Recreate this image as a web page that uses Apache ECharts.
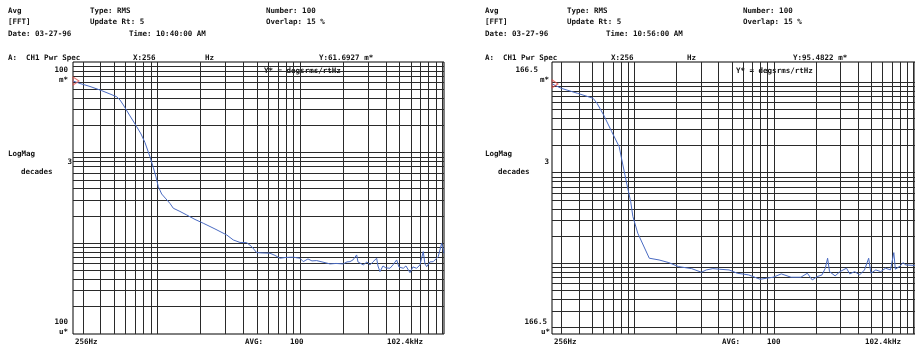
<!DOCTYPE html>
<html>
<head>
<meta charset="utf-8">
<title>CH1 Pwr Spec</title>
<script src="https://cdn.jsdelivr.net/npm/echarts@6/dist/echarts.min.js"></script>
<style>
  html, body { margin: 0; padding: 0; background: #fff; }
  #chart { width: 915px; height: 349px; }
</style>
</head>
<body>
<div id="chart"></div>
<script>
// left trace (10:40:00) - Hz / degsrms/rtHz
const freqA = [256, 287, 337, 407, 465, 518, 547, 577, 643, 716, 768, 819, 888, 936, 978, 1015, 1072, 1149, 1226, 1293,
  1440, 1605, 1836, 2099, 2535, 3062, 3407, 3797, 4230, 4587, 4972, 5417, 6163, 6682, 7243, 7980, 8979, 10004, 10550, 11381,
  12140, 13099, 14270, 16236, 17887, 20127, 21363, 22425, 23537, 24989, 25518, 27802, 29517, 30976, 32512, 34509, 35251, 36403, 38221, 40090,
  42778, 44902, 47667, 49459, 53043, 55398, 59110, 62029, 65843, 69453, 73242, 75290, 77389, 81613, 86093, 89933, 93312, 95898, 98586, 102400];
const magA = [0.0617, 0.0579, 0.0537, 0.0483, 0.0444, 0.0414, 0.0381, 0.0336, 0.0254, 0.01935, 0.01607, 0.0129, 0.00897, 0.00687, 0.0054, 0.00422, 0.0035, 0.00309, 0.002754, 0.002438,
  0.002248, 0.002056, 0.001834, 0.001666, 0.001441, 0.001238, 0.00109, 0.001023, 0.001018, 0.00092, 0.00079, 0.000784, 0.000778, 0.000736, 0.000685, 0.000699, 0.000703, 0.000685, 0.000628, 0.000673,
  0.00064, 0.000645, 0.000624, 0.000593, 0.0006, 0.000593, 0.000624, 0.000628, 0.000656, 0.000745, 0.000624, 0.000578, 0.000624, 0.000578, 0.000624, 0.000685, 0.000563, 0.000488, 0.000563, 0.000536,
  0.000531, 0.000578, 0.000656, 0.000549, 0.000531, 0.000563, 0.000475, 0.000549, 0.000531, 0.000578, 0.00081, 0.000593, 0.000553, 0.000624, 0.000628, 0.000673, 0.000714, 0.00069, 0.001003, 0.000778];

// right trace (10:56:00)
const freqB = [256, 298, 390, 504, 538, 600, 686, 776, 806, 873, 938, 973, 1055, 1275, 1498, 1761, 2069, 2565, 3013, 3267,
  3640, 4050, 4759, 5450, 6572, 7939, 8847, 9846, 11274, 13245, 15567, 17321, 18778, 20355, 22065, 23311, 24197, 24989, 27392, 29696,
  33050, 34893, 37837, 41037, 44493, 47667, 49459, 53632, 58138, 63027, 68352, 72192, 74061, 80307, 83866, 88064, 102400];
const magB = [0.0955, 0.0854, 0.0752, 0.0663, 0.0584, 0.0434, 0.02837, 0.01938, 0.01445, 0.00797, 0.0048, 0.00328, 0.00215, 0.001141, 0.001092, 0.00102, 0.000921, 0.000876, 0.000799, 0.000847,
  0.000876, 0.000863, 0.000847, 0.000779, 0.000747, 0.000669, 0.000686, 0.000704, 0.000766, 0.000704, 0.000704, 0.000779, 0.000657, 0.000715, 0.000747, 0.000885, 0.001141, 0.000812, 0.000728, 0.000812,
  0.000885, 0.000766, 0.000812, 0.000747, 0.000847, 0.001141, 0.000779, 0.000847, 0.000812, 0.000885, 0.000847, 0.001315, 0.000863, 0.000938, 0.00102, 0.000962, 0.00095];

// axis ranges
const xRange = [256, 102400];
const yRangeA = [1e-4, 1e-1];
const yRangeB = [1.665e-4, 0.1665];

// log grid lines (1..9 per decade)
const gridFreqs = [300, 400, 500, 600, 700, 800, 900, 1000, 2000, 3000, 4000, 5000, 6000, 7000, 8000, 9000,
  10000, 20000, 30000, 40000, 50000, 60000, 70000, 80000, 90000, 100000];
const gridMags = [2e-4, 3e-4, 4e-4, 5e-4, 6e-4, 7e-4, 8e-4, 9e-4, 1e-3, 2e-3, 3e-3, 4e-3, 5e-3, 6e-3, 7e-3, 8e-3, 9e-3,
  1e-2, 2e-2, 3e-2, 4e-2, 5e-2, 6e-2, 7e-2, 8e-2, 9e-2, 1e-1];

// header / annotation texts
const headA = {
  time: "Time: 10:40:00 AM", yRead: "Y:61.6927 m*", top: "100", bottom: "100"
};
const headB = {
  time: "Time: 10:56:00 AM", yRead: "Y:95.4822 m*", top: "166.5", bottom: "166.5"
};

const FONT = 'bold 7.5px "DejaVu Sans Mono"';

function txt(x, y, s, align) {
  return {
    type: "text", x: x, y: y, silent: true,
    style: { text: s, font: FONT, fill: "#111", textAlign: align || "left", textVerticalAlign: "middle" }
  };
}

function panelTexts(dx, h, p) {
  return [
    txt(dx + 8, 11, "Avg"),
    txt(dx + 8, 22, "[FFT]"),
    txt(dx + 8, 34.5, "Date: 03-27-96"),
    txt(dx + 90, 11, "Type: RMS"),
    txt(dx + 90, 22, "Update Rt: 5"),
    txt(dx + 129, 34.5, h.time),
    txt(dx + 266, 11, "Number: 100"),
    txt(dx + 266, 22, "Overlap: 15 %"),
    txt(dx + 8, 58, "A:  CH1 Pwr Spec"),
    txt(p.xLab, 58, "X:256"),
    txt(p.hz, 58, "Hz"),
    txt(p.yRead, 58, h.yRead),
    txt(p.unit, 71, "Y* = degsrms/rtHz"),
    txt(p.topR, 70, h.top, "right"),
    txt(p.mR, 80, "m*", "right"),
    txt(dx + 8, 154, "LogMag"),
    txt(p.threeR, 162, "3", "right"),
    txt(dx + 21, 172, "decades"),
    txt(p.botR, 322, h.bottom, "right"),
    txt(p.uR, 332, "u*", "right"),
    txt(p.x0 + 2, 342, "256Hz"),
    txt(p.avg, 342, "AVG:"),
    txt(p.avg + 45, 342, "100"),
    txt(p.end, 342, "102.4kHz")
  ];
}

function gridLines(yr) {
  const lines = gridFreqs.map((f) => ({ xAxis: f }));
  gridMags.filter((m) => m > yr[0] && m < yr[1]).forEach((m) => lines.push({ yAxis: m }));
  return lines;
}

function traceSeries(idx, freqs, mags, yr) {
  return {
    type: "line",
    xAxisIndex: idx,
    yAxisIndex: idx,
    data: freqs.map((f, i) => [f, mags[i]]),
    showSymbol: false,
    symbol: "none",
    lineStyle: { color: "#4a6bc2", width: 1 },
    z: 3,
    markLine: {
      silent: true,
      z: 1,
      precision: 10, // default of 2 rounds the small magnitudes away
      symbol: ["none", "none"],
      label: { show: false },
      lineStyle: { color: "#2a2a2a", width: 1, type: "solid" },
      emphasis: { disabled: true },
      animation: false,
      data: gridLines(yr)
    }
  };
}

function markerSeries(idx, f, m) {
  return {
    type: "scatter",
    xAxisIndex: idx,
    yAxisIndex: idx,
    data: [[f, m]],
    symbol: "path://M0,0L10,6L0,12Z",
    symbolSize: [6, 8],
    symbolOffset: [3, 0],
    itemStyle: { color: "rgba(0,0,0,0)", borderColor: "#e0504a", borderWidth: 1 },
    clip: false,
    silent: true,
    z: 6
  };
}

function xAx(idx) {
  return {
    type: "log", logBase: 10, gridIndex: idx, min: xRange[0], max: xRange[1],
    axisLine: { show: false }, axisTick: { show: false }, axisLabel: { show: false }, splitLine: { show: false }
  };
}

function yAx(idx, yr) {
  return {
    type: "log", logBase: 10, gridIndex: idx, min: yr[0], max: yr[1],
    axisLine: { show: false }, axisTick: { show: false }, axisLabel: { show: false }, splitLine: { show: false }
  };
}

const chart = echarts.init(document.getElementById("chart"));

const option = {
  animation: false,
  backgroundColor: "#fff",
  grid: [
    { left: 73, top: 62, width: 371, height: 272, show: true, borderColor: "#000", borderWidth: 1 },
    { left: 552, top: 62, width: 371, height: 272, show: true, borderColor: "#000", borderWidth: 1 }
  ],
  xAxis: [xAx(0), xAx(1)],
  yAxis: [yAx(0, yRangeA), yAx(1, yRangeB)],
  series: [
    traceSeries(0, freqA, magA, yRangeA),
    traceSeries(1, freqB, magB, yRangeB),
    markerSeries(0, freqA[0], magA[0]),
    markerSeries(1, freqB[0], magB[0])
  ],
  graphic: panelTexts(0, headA, {
    xLab: 133, hz: 205, yRead: 319, unit: 264, topR: 68, mR: 68, threeR: 72, botR: 68, uR: 68,
    x0: 73, avg: 245, end: 387
  }).concat(panelTexts(477, headB, {
    xLab: 611, hz: 687, yRead: 793, unit: 736, topR: 538, mR: 549, threeR: 549, botR: 547, uR: 550,
    x0: 552, avg: 722, end: 865
  }))
};

chart.setOption(option);
</script>
</body>
</html>
